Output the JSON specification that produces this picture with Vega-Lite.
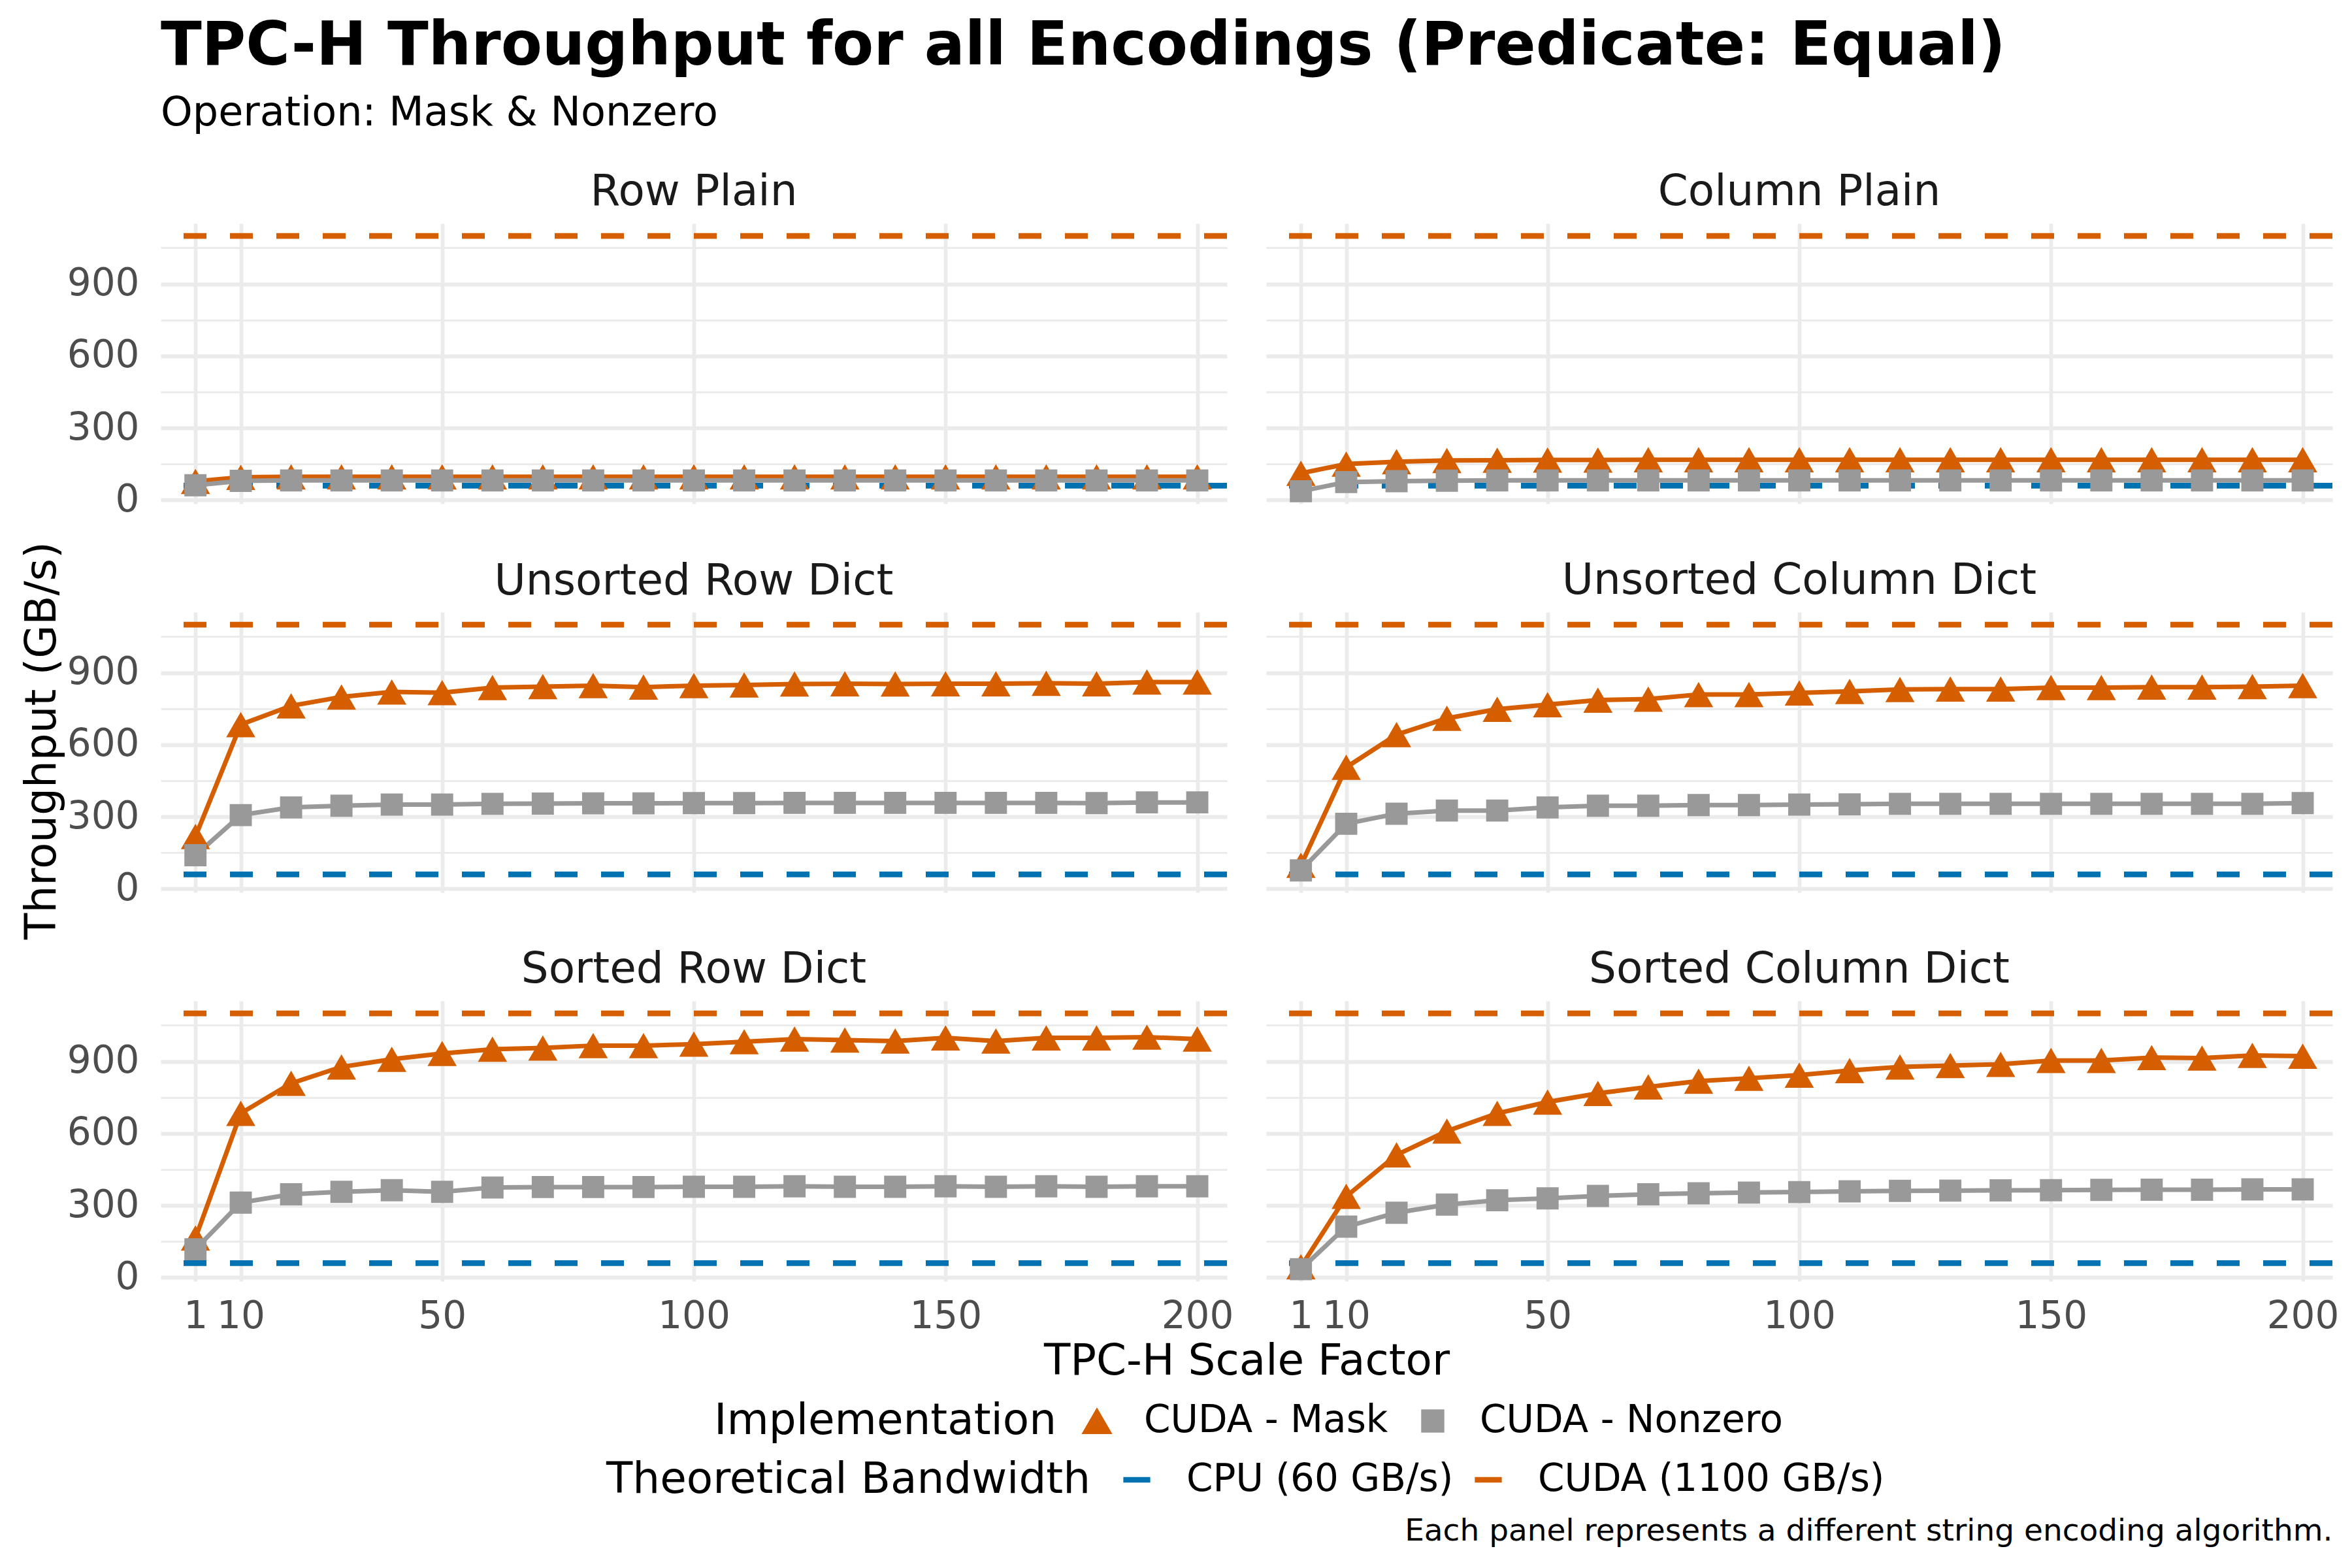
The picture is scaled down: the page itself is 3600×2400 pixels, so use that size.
{
  "$schema": "https://vega.github.io/schema/vega-lite/v6.json",
  "background": "white",
  "padding": {"left": 30, "top": 25, "right": 30, "bottom": 25},
  "title": {
    "text": "TPC-H Throughput for all Encodings (Predicate: Equal)",
    "subtitle": "Operation: Mask & Nonzero",
    "anchor": "start",
    "frame": "group",
    "fontSize": 92,
    "fontWeight": "bold",
    "color": "#000000",
    "subtitleFontSize": 62,
    "subtitleColor": "#000000",
    "subtitlePadding": 25,
    "offset": 56
  },
  "datasets": {
    "bw": [
      {"throughput": 60, "label": "CPU (60 GB/s)"},
      {"throughput": 1100, "label": "CUDA (1100 GB/s)"}
    ],
    "tp": [
      {"panel":"Row Plain","impl":"CUDA - Mask","sf":1,"throughput":78},
      {"panel":"Row Plain","impl":"CUDA - Mask","sf":10,"throughput":95},
      {"panel":"Row Plain","impl":"CUDA - Mask","sf":20,"throughput":97},
      {"panel":"Row Plain","impl":"CUDA - Mask","sf":30,"throughput":97},
      {"panel":"Row Plain","impl":"CUDA - Mask","sf":40,"throughput":97},
      {"panel":"Row Plain","impl":"CUDA - Mask","sf":50,"throughput":97},
      {"panel":"Row Plain","impl":"CUDA - Mask","sf":60,"throughput":97},
      {"panel":"Row Plain","impl":"CUDA - Mask","sf":70,"throughput":97},
      {"panel":"Row Plain","impl":"CUDA - Mask","sf":80,"throughput":97},
      {"panel":"Row Plain","impl":"CUDA - Mask","sf":90,"throughput":97},
      {"panel":"Row Plain","impl":"CUDA - Mask","sf":100,"throughput":97},
      {"panel":"Row Plain","impl":"CUDA - Mask","sf":110,"throughput":97},
      {"panel":"Row Plain","impl":"CUDA - Mask","sf":120,"throughput":97},
      {"panel":"Row Plain","impl":"CUDA - Mask","sf":130,"throughput":97},
      {"panel":"Row Plain","impl":"CUDA - Mask","sf":140,"throughput":97},
      {"panel":"Row Plain","impl":"CUDA - Mask","sf":150,"throughput":97},
      {"panel":"Row Plain","impl":"CUDA - Mask","sf":160,"throughput":97},
      {"panel":"Row Plain","impl":"CUDA - Mask","sf":170,"throughput":97},
      {"panel":"Row Plain","impl":"CUDA - Mask","sf":180,"throughput":97},
      {"panel":"Row Plain","impl":"CUDA - Mask","sf":190,"throughput":97},
      {"panel":"Row Plain","impl":"CUDA - Mask","sf":200,"throughput":97},
      {"panel":"Row Plain","impl":"CUDA - Nonzero","sf":1,"throughput":62},
      {"panel":"Row Plain","impl":"CUDA - Nonzero","sf":10,"throughput":80},
      {"panel":"Row Plain","impl":"CUDA - Nonzero","sf":20,"throughput":82},
      {"panel":"Row Plain","impl":"CUDA - Nonzero","sf":30,"throughput":82},
      {"panel":"Row Plain","impl":"CUDA - Nonzero","sf":40,"throughput":82},
      {"panel":"Row Plain","impl":"CUDA - Nonzero","sf":50,"throughput":82},
      {"panel":"Row Plain","impl":"CUDA - Nonzero","sf":60,"throughput":82},
      {"panel":"Row Plain","impl":"CUDA - Nonzero","sf":70,"throughput":82},
      {"panel":"Row Plain","impl":"CUDA - Nonzero","sf":80,"throughput":82},
      {"panel":"Row Plain","impl":"CUDA - Nonzero","sf":90,"throughput":82},
      {"panel":"Row Plain","impl":"CUDA - Nonzero","sf":100,"throughput":82},
      {"panel":"Row Plain","impl":"CUDA - Nonzero","sf":110,"throughput":82},
      {"panel":"Row Plain","impl":"CUDA - Nonzero","sf":120,"throughput":82},
      {"panel":"Row Plain","impl":"CUDA - Nonzero","sf":130,"throughput":82},
      {"panel":"Row Plain","impl":"CUDA - Nonzero","sf":140,"throughput":82},
      {"panel":"Row Plain","impl":"CUDA - Nonzero","sf":150,"throughput":82},
      {"panel":"Row Plain","impl":"CUDA - Nonzero","sf":160,"throughput":82},
      {"panel":"Row Plain","impl":"CUDA - Nonzero","sf":170,"throughput":82},
      {"panel":"Row Plain","impl":"CUDA - Nonzero","sf":180,"throughput":82},
      {"panel":"Row Plain","impl":"CUDA - Nonzero","sf":190,"throughput":82},
      {"panel":"Row Plain","impl":"CUDA - Nonzero","sf":200,"throughput":82},
      {"panel":"Column Plain","impl":"CUDA - Mask","sf":1,"throughput":112},
      {"panel":"Column Plain","impl":"CUDA - Mask","sf":10,"throughput":150},
      {"panel":"Column Plain","impl":"CUDA - Mask","sf":20,"throughput":160},
      {"panel":"Column Plain","impl":"CUDA - Mask","sf":30,"throughput":165},
      {"panel":"Column Plain","impl":"CUDA - Mask","sf":40,"throughput":166},
      {"panel":"Column Plain","impl":"CUDA - Mask","sf":50,"throughput":167},
      {"panel":"Column Plain","impl":"CUDA - Mask","sf":60,"throughput":167},
      {"panel":"Column Plain","impl":"CUDA - Mask","sf":70,"throughput":168},
      {"panel":"Column Plain","impl":"CUDA - Mask","sf":80,"throughput":168},
      {"panel":"Column Plain","impl":"CUDA - Mask","sf":90,"throughput":168},
      {"panel":"Column Plain","impl":"CUDA - Mask","sf":100,"throughput":168},
      {"panel":"Column Plain","impl":"CUDA - Mask","sf":110,"throughput":168},
      {"panel":"Column Plain","impl":"CUDA - Mask","sf":120,"throughput":168},
      {"panel":"Column Plain","impl":"CUDA - Mask","sf":130,"throughput":168},
      {"panel":"Column Plain","impl":"CUDA - Mask","sf":140,"throughput":168},
      {"panel":"Column Plain","impl":"CUDA - Mask","sf":150,"throughput":168},
      {"panel":"Column Plain","impl":"CUDA - Mask","sf":160,"throughput":168},
      {"panel":"Column Plain","impl":"CUDA - Mask","sf":170,"throughput":168},
      {"panel":"Column Plain","impl":"CUDA - Mask","sf":180,"throughput":168},
      {"panel":"Column Plain","impl":"CUDA - Mask","sf":190,"throughput":168},
      {"panel":"Column Plain","impl":"CUDA - Mask","sf":200,"throughput":168},
      {"panel":"Column Plain","impl":"CUDA - Nonzero","sf":1,"throughput":37},
      {"panel":"Column Plain","impl":"CUDA - Nonzero","sf":10,"throughput":75},
      {"panel":"Column Plain","impl":"CUDA - Nonzero","sf":20,"throughput":79},
      {"panel":"Column Plain","impl":"CUDA - Nonzero","sf":30,"throughput":81},
      {"panel":"Column Plain","impl":"CUDA - Nonzero","sf":40,"throughput":82},
      {"panel":"Column Plain","impl":"CUDA - Nonzero","sf":50,"throughput":82},
      {"panel":"Column Plain","impl":"CUDA - Nonzero","sf":60,"throughput":82},
      {"panel":"Column Plain","impl":"CUDA - Nonzero","sf":70,"throughput":82},
      {"panel":"Column Plain","impl":"CUDA - Nonzero","sf":80,"throughput":82},
      {"panel":"Column Plain","impl":"CUDA - Nonzero","sf":90,"throughput":82},
      {"panel":"Column Plain","impl":"CUDA - Nonzero","sf":100,"throughput":82},
      {"panel":"Column Plain","impl":"CUDA - Nonzero","sf":110,"throughput":82},
      {"panel":"Column Plain","impl":"CUDA - Nonzero","sf":120,"throughput":82},
      {"panel":"Column Plain","impl":"CUDA - Nonzero","sf":130,"throughput":82},
      {"panel":"Column Plain","impl":"CUDA - Nonzero","sf":140,"throughput":82},
      {"panel":"Column Plain","impl":"CUDA - Nonzero","sf":150,"throughput":82},
      {"panel":"Column Plain","impl":"CUDA - Nonzero","sf":160,"throughput":82},
      {"panel":"Column Plain","impl":"CUDA - Nonzero","sf":170,"throughput":82},
      {"panel":"Column Plain","impl":"CUDA - Nonzero","sf":180,"throughput":82},
      {"panel":"Column Plain","impl":"CUDA - Nonzero","sf":190,"throughput":82},
      {"panel":"Column Plain","impl":"CUDA - Nonzero","sf":200,"throughput":82},
      {"panel":"Unsorted Row Dict","impl":"CUDA - Mask","sf":1,"throughput":218},
      {"panel":"Unsorted Row Dict","impl":"CUDA - Mask","sf":10,"throughput":684},
      {"panel":"Unsorted Row Dict","impl":"CUDA - Mask","sf":20,"throughput":762},
      {"panel":"Unsorted Row Dict","impl":"CUDA - Mask","sf":30,"throughput":799},
      {"panel":"Unsorted Row Dict","impl":"CUDA - Mask","sf":40,"throughput":820},
      {"panel":"Unsorted Row Dict","impl":"CUDA - Mask","sf":50,"throughput":817},
      {"panel":"Unsorted Row Dict","impl":"CUDA - Mask","sf":60,"throughput":838},
      {"panel":"Unsorted Row Dict","impl":"CUDA - Mask","sf":70,"throughput":842},
      {"panel":"Unsorted Row Dict","impl":"CUDA - Mask","sf":80,"throughput":846},
      {"panel":"Unsorted Row Dict","impl":"CUDA - Mask","sf":90,"throughput":840},
      {"panel":"Unsorted Row Dict","impl":"CUDA - Mask","sf":100,"throughput":846},
      {"panel":"Unsorted Row Dict","impl":"CUDA - Mask","sf":110,"throughput":849},
      {"panel":"Unsorted Row Dict","impl":"CUDA - Mask","sf":120,"throughput":853},
      {"panel":"Unsorted Row Dict","impl":"CUDA - Mask","sf":130,"throughput":854},
      {"panel":"Unsorted Row Dict","impl":"CUDA - Mask","sf":140,"throughput":853},
      {"panel":"Unsorted Row Dict","impl":"CUDA - Mask","sf":150,"throughput":854},
      {"panel":"Unsorted Row Dict","impl":"CUDA - Mask","sf":160,"throughput":854},
      {"panel":"Unsorted Row Dict","impl":"CUDA - Mask","sf":170,"throughput":856},
      {"panel":"Unsorted Row Dict","impl":"CUDA - Mask","sf":180,"throughput":854},
      {"panel":"Unsorted Row Dict","impl":"CUDA - Mask","sf":190,"throughput":861},
      {"panel":"Unsorted Row Dict","impl":"CUDA - Mask","sf":200,"throughput":861},
      {"panel":"Unsorted Row Dict","impl":"CUDA - Nonzero","sf":1,"throughput":140},
      {"panel":"Unsorted Row Dict","impl":"CUDA - Nonzero","sf":10,"throughput":307},
      {"panel":"Unsorted Row Dict","impl":"CUDA - Nonzero","sf":20,"throughput":339},
      {"panel":"Unsorted Row Dict","impl":"CUDA - Nonzero","sf":30,"throughput":346},
      {"panel":"Unsorted Row Dict","impl":"CUDA - Nonzero","sf":40,"throughput":351},
      {"panel":"Unsorted Row Dict","impl":"CUDA - Nonzero","sf":50,"throughput":351},
      {"panel":"Unsorted Row Dict","impl":"CUDA - Nonzero","sf":60,"throughput":354},
      {"panel":"Unsorted Row Dict","impl":"CUDA - Nonzero","sf":70,"throughput":355},
      {"panel":"Unsorted Row Dict","impl":"CUDA - Nonzero","sf":80,"throughput":356},
      {"panel":"Unsorted Row Dict","impl":"CUDA - Nonzero","sf":90,"throughput":356},
      {"panel":"Unsorted Row Dict","impl":"CUDA - Nonzero","sf":100,"throughput":357},
      {"panel":"Unsorted Row Dict","impl":"CUDA - Nonzero","sf":110,"throughput":357},
      {"panel":"Unsorted Row Dict","impl":"CUDA - Nonzero","sf":120,"throughput":358},
      {"panel":"Unsorted Row Dict","impl":"CUDA - Nonzero","sf":130,"throughput":358},
      {"panel":"Unsorted Row Dict","impl":"CUDA - Nonzero","sf":140,"throughput":358},
      {"panel":"Unsorted Row Dict","impl":"CUDA - Nonzero","sf":150,"throughput":358},
      {"panel":"Unsorted Row Dict","impl":"CUDA - Nonzero","sf":160,"throughput":358},
      {"panel":"Unsorted Row Dict","impl":"CUDA - Nonzero","sf":170,"throughput":358},
      {"panel":"Unsorted Row Dict","impl":"CUDA - Nonzero","sf":180,"throughput":357},
      {"panel":"Unsorted Row Dict","impl":"CUDA - Nonzero","sf":190,"throughput":360},
      {"panel":"Unsorted Row Dict","impl":"CUDA - Nonzero","sf":200,"throughput":360},
      {"panel":"Unsorted Column Dict","impl":"CUDA - Mask","sf":1,"throughput":98},
      {"panel":"Unsorted Column Dict","impl":"CUDA - Mask","sf":10,"throughput":506},
      {"panel":"Unsorted Column Dict","impl":"CUDA - Mask","sf":20,"throughput":642},
      {"panel":"Unsorted Column Dict","impl":"CUDA - Mask","sf":30,"throughput":710},
      {"panel":"Unsorted Column Dict","impl":"CUDA - Mask","sf":40,"throughput":748},
      {"panel":"Unsorted Column Dict","impl":"CUDA - Mask","sf":50,"throughput":767},
      {"panel":"Unsorted Column Dict","impl":"CUDA - Mask","sf":60,"throughput":786},
      {"panel":"Unsorted Column Dict","impl":"CUDA - Mask","sf":70,"throughput":790},
      {"panel":"Unsorted Column Dict","impl":"CUDA - Mask","sf":80,"throughput":809},
      {"panel":"Unsorted Column Dict","impl":"CUDA - Mask","sf":90,"throughput":809},
      {"panel":"Unsorted Column Dict","impl":"CUDA - Mask","sf":100,"throughput":816},
      {"panel":"Unsorted Column Dict","impl":"CUDA - Mask","sf":110,"throughput":822},
      {"panel":"Unsorted Column Dict","impl":"CUDA - Mask","sf":120,"throughput":830},
      {"panel":"Unsorted Column Dict","impl":"CUDA - Mask","sf":130,"throughput":832},
      {"panel":"Unsorted Column Dict","impl":"CUDA - Mask","sf":140,"throughput":832},
      {"panel":"Unsorted Column Dict","impl":"CUDA - Mask","sf":150,"throughput":838},
      {"panel":"Unsorted Column Dict","impl":"CUDA - Mask","sf":160,"throughput":838},
      {"panel":"Unsorted Column Dict","impl":"CUDA - Mask","sf":170,"throughput":840},
      {"panel":"Unsorted Column Dict","impl":"CUDA - Mask","sf":180,"throughput":840},
      {"panel":"Unsorted Column Dict","impl":"CUDA - Mask","sf":190,"throughput":842},
      {"panel":"Unsorted Column Dict","impl":"CUDA - Mask","sf":200,"throughput":846},
      {"panel":"Unsorted Column Dict","impl":"CUDA - Nonzero","sf":1,"throughput":77},
      {"panel":"Unsorted Column Dict","impl":"CUDA - Nonzero","sf":10,"throughput":271},
      {"panel":"Unsorted Column Dict","impl":"CUDA - Nonzero","sf":20,"throughput":313},
      {"panel":"Unsorted Column Dict","impl":"CUDA - Nonzero","sf":30,"throughput":326},
      {"panel":"Unsorted Column Dict","impl":"CUDA - Nonzero","sf":40,"throughput":326},
      {"panel":"Unsorted Column Dict","impl":"CUDA - Nonzero","sf":50,"throughput":339},
      {"panel":"Unsorted Column Dict","impl":"CUDA - Nonzero","sf":60,"throughput":346},
      {"panel":"Unsorted Column Dict","impl":"CUDA - Nonzero","sf":70,"throughput":346},
      {"panel":"Unsorted Column Dict","impl":"CUDA - Nonzero","sf":80,"throughput":349},
      {"panel":"Unsorted Column Dict","impl":"CUDA - Nonzero","sf":90,"throughput":349},
      {"panel":"Unsorted Column Dict","impl":"CUDA - Nonzero","sf":100,"throughput":351},
      {"panel":"Unsorted Column Dict","impl":"CUDA - Nonzero","sf":110,"throughput":352},
      {"panel":"Unsorted Column Dict","impl":"CUDA - Nonzero","sf":120,"throughput":354},
      {"panel":"Unsorted Column Dict","impl":"CUDA - Nonzero","sf":130,"throughput":354},
      {"panel":"Unsorted Column Dict","impl":"CUDA - Nonzero","sf":140,"throughput":354},
      {"panel":"Unsorted Column Dict","impl":"CUDA - Nonzero","sf":150,"throughput":354},
      {"panel":"Unsorted Column Dict","impl":"CUDA - Nonzero","sf":160,"throughput":354},
      {"panel":"Unsorted Column Dict","impl":"CUDA - Nonzero","sf":170,"throughput":354},
      {"panel":"Unsorted Column Dict","impl":"CUDA - Nonzero","sf":180,"throughput":354},
      {"panel":"Unsorted Column Dict","impl":"CUDA - Nonzero","sf":190,"throughput":354},
      {"panel":"Unsorted Column Dict","impl":"CUDA - Nonzero","sf":200,"throughput":357},
      {"panel":"Sorted Row Dict","impl":"CUDA - Mask","sf":1,"throughput":165},
      {"panel":"Sorted Row Dict","impl":"CUDA - Mask","sf":10,"throughput":684},
      {"panel":"Sorted Row Dict","impl":"CUDA - Mask","sf":20,"throughput":809},
      {"panel":"Sorted Row Dict","impl":"CUDA - Mask","sf":30,"throughput":877},
      {"panel":"Sorted Row Dict","impl":"CUDA - Mask","sf":40,"throughput":909},
      {"panel":"Sorted Row Dict","impl":"CUDA - Mask","sf":50,"throughput":933},
      {"panel":"Sorted Row Dict","impl":"CUDA - Mask","sf":60,"throughput":951},
      {"panel":"Sorted Row Dict","impl":"CUDA - Mask","sf":70,"throughput":956},
      {"panel":"Sorted Row Dict","impl":"CUDA - Mask","sf":80,"throughput":966},
      {"panel":"Sorted Row Dict","impl":"CUDA - Mask","sf":90,"throughput":966},
      {"panel":"Sorted Row Dict","impl":"CUDA - Mask","sf":100,"throughput":972},
      {"panel":"Sorted Row Dict","impl":"CUDA - Mask","sf":110,"throughput":982},
      {"panel":"Sorted Row Dict","impl":"CUDA - Mask","sf":120,"throughput":993},
      {"panel":"Sorted Row Dict","impl":"CUDA - Mask","sf":130,"throughput":989},
      {"panel":"Sorted Row Dict","impl":"CUDA - Mask","sf":140,"throughput":985},
      {"panel":"Sorted Row Dict","impl":"CUDA - Mask","sf":150,"throughput":998},
      {"panel":"Sorted Row Dict","impl":"CUDA - Mask","sf":160,"throughput":985},
      {"panel":"Sorted Row Dict","impl":"CUDA - Mask","sf":170,"throughput":998},
      {"panel":"Sorted Row Dict","impl":"CUDA - Mask","sf":180,"throughput":998},
      {"panel":"Sorted Row Dict","impl":"CUDA - Mask","sf":190,"throughput":1001},
      {"panel":"Sorted Row Dict","impl":"CUDA - Mask","sf":200,"throughput":993},
      {"panel":"Sorted Row Dict","impl":"CUDA - Nonzero","sf":1,"throughput":118},
      {"panel":"Sorted Row Dict","impl":"CUDA - Nonzero","sf":10,"throughput":312},
      {"panel":"Sorted Row Dict","impl":"CUDA - Nonzero","sf":20,"throughput":347},
      {"panel":"Sorted Row Dict","impl":"CUDA - Nonzero","sf":30,"throughput":357},
      {"panel":"Sorted Row Dict","impl":"CUDA - Nonzero","sf":40,"throughput":364},
      {"panel":"Sorted Row Dict","impl":"CUDA - Nonzero","sf":50,"throughput":357},
      {"panel":"Sorted Row Dict","impl":"CUDA - Nonzero","sf":60,"throughput":375},
      {"panel":"Sorted Row Dict","impl":"CUDA - Nonzero","sf":70,"throughput":377},
      {"panel":"Sorted Row Dict","impl":"CUDA - Nonzero","sf":80,"throughput":377},
      {"panel":"Sorted Row Dict","impl":"CUDA - Nonzero","sf":90,"throughput":377},
      {"panel":"Sorted Row Dict","impl":"CUDA - Nonzero","sf":100,"throughput":378},
      {"panel":"Sorted Row Dict","impl":"CUDA - Nonzero","sf":110,"throughput":378},
      {"panel":"Sorted Row Dict","impl":"CUDA - Nonzero","sf":120,"throughput":380},
      {"panel":"Sorted Row Dict","impl":"CUDA - Nonzero","sf":130,"throughput":378},
      {"panel":"Sorted Row Dict","impl":"CUDA - Nonzero","sf":140,"throughput":378},
      {"panel":"Sorted Row Dict","impl":"CUDA - Nonzero","sf":150,"throughput":380},
      {"panel":"Sorted Row Dict","impl":"CUDA - Nonzero","sf":160,"throughput":378},
      {"panel":"Sorted Row Dict","impl":"CUDA - Nonzero","sf":170,"throughput":380},
      {"panel":"Sorted Row Dict","impl":"CUDA - Nonzero","sf":180,"throughput":378},
      {"panel":"Sorted Row Dict","impl":"CUDA - Nonzero","sf":190,"throughput":380},
      {"panel":"Sorted Row Dict","impl":"CUDA - Nonzero","sf":200,"throughput":380},
      {"panel":"Sorted Column Dict","impl":"CUDA - Mask","sf":1,"throughput":45},
      {"panel":"Sorted Column Dict","impl":"CUDA - Mask","sf":10,"throughput":338},
      {"panel":"Sorted Column Dict","impl":"CUDA - Mask","sf":20,"throughput":511},
      {"panel":"Sorted Column Dict","impl":"CUDA - Mask","sf":30,"throughput":610},
      {"panel":"Sorted Column Dict","impl":"CUDA - Mask","sf":40,"throughput":684},
      {"panel":"Sorted Column Dict","impl":"CUDA - Mask","sf":50,"throughput":731},
      {"panel":"Sorted Column Dict","impl":"CUDA - Mask","sf":60,"throughput":767},
      {"panel":"Sorted Column Dict","impl":"CUDA - Mask","sf":70,"throughput":794},
      {"panel":"Sorted Column Dict","impl":"CUDA - Mask","sf":80,"throughput":818},
      {"panel":"Sorted Column Dict","impl":"CUDA - Mask","sf":90,"throughput":830},
      {"panel":"Sorted Column Dict","impl":"CUDA - Mask","sf":100,"throughput":843},
      {"panel":"Sorted Column Dict","impl":"CUDA - Mask","sf":110,"throughput":862},
      {"panel":"Sorted Column Dict","impl":"CUDA - Mask","sf":120,"throughput":877},
      {"panel":"Sorted Column Dict","impl":"CUDA - Mask","sf":130,"throughput":883},
      {"panel":"Sorted Column Dict","impl":"CUDA - Mask","sf":140,"throughput":888},
      {"panel":"Sorted Column Dict","impl":"CUDA - Mask","sf":150,"throughput":904},
      {"panel":"Sorted Column Dict","impl":"CUDA - Mask","sf":160,"throughput":904},
      {"panel":"Sorted Column Dict","impl":"CUDA - Mask","sf":170,"throughput":916},
      {"panel":"Sorted Column Dict","impl":"CUDA - Mask","sf":180,"throughput":914},
      {"panel":"Sorted Column Dict","impl":"CUDA - Mask","sf":190,"throughput":925},
      {"panel":"Sorted Column Dict","impl":"CUDA - Mask","sf":200,"throughput":922},
      {"panel":"Sorted Column Dict","impl":"CUDA - Nonzero","sf":1,"throughput":35},
      {"panel":"Sorted Column Dict","impl":"CUDA - Nonzero","sf":10,"throughput":212},
      {"panel":"Sorted Column Dict","impl":"CUDA - Nonzero","sf":20,"throughput":270},
      {"panel":"Sorted Column Dict","impl":"CUDA - Nonzero","sf":30,"throughput":304},
      {"panel":"Sorted Column Dict","impl":"CUDA - Nonzero","sf":40,"throughput":322},
      {"panel":"Sorted Column Dict","impl":"CUDA - Nonzero","sf":50,"throughput":330},
      {"panel":"Sorted Column Dict","impl":"CUDA - Nonzero","sf":60,"throughput":340},
      {"panel":"Sorted Column Dict","impl":"CUDA - Nonzero","sf":70,"throughput":347},
      {"panel":"Sorted Column Dict","impl":"CUDA - Nonzero","sf":80,"throughput":351},
      {"panel":"Sorted Column Dict","impl":"CUDA - Nonzero","sf":90,"throughput":354},
      {"panel":"Sorted Column Dict","impl":"CUDA - Nonzero","sf":100,"throughput":356},
      {"panel":"Sorted Column Dict","impl":"CUDA - Nonzero","sf":110,"throughput":359},
      {"panel":"Sorted Column Dict","impl":"CUDA - Nonzero","sf":120,"throughput":361},
      {"panel":"Sorted Column Dict","impl":"CUDA - Nonzero","sf":130,"throughput":362},
      {"panel":"Sorted Column Dict","impl":"CUDA - Nonzero","sf":140,"throughput":363},
      {"panel":"Sorted Column Dict","impl":"CUDA - Nonzero","sf":150,"throughput":364},
      {"panel":"Sorted Column Dict","impl":"CUDA - Nonzero","sf":160,"throughput":365},
      {"panel":"Sorted Column Dict","impl":"CUDA - Nonzero","sf":170,"throughput":366},
      {"panel":"Sorted Column Dict","impl":"CUDA - Nonzero","sf":180,"throughput":366},
      {"panel":"Sorted Column Dict","impl":"CUDA - Nonzero","sf":190,"throughput":367},
      {"panel":"Sorted Column Dict","impl":"CUDA - Nonzero","sf":200,"throughput":367}
    ]
  },
  "bounds": "flush",
  "columns": 2,
  "spacing": {"row": 166, "column": 60},
  "concat": [
    {
      "title": "Row Plain",
      "width": 1632, "height": 429,
      "encoding": {"y": {"field": "throughput", "type": "quantitative", "scale": {"domain": [-15, 1152], "nice": false, "zero": false}, "axis": {"values": [0, 150, 300, 450, 600, 750, 900, 1050], "labelExpr": "datum.value % 300 === 0 ? datum.label : ''", "gridWidth": {"condition": {"test": "datum.value % 300 === 0", "value": 6}, "value": 3.2}, "title": null}}},
      "layer": [
        {"data": {"name": "bw"}, "mark": {"type": "rule", "strokeDash": [35, 36], "strokeWidth": 8.7},
         "encoding": {"stroke": {"field": "label", "type": "nominal", "scale": {"domain": ["CPU (60 GB/s)", "CUDA (1100 GB/s)"], "range": ["#0072B2", "#D55E00"]}, "legend": {"title": "Theoretical Bandwidth", "orient": "none", "legendX": 682, "legendY": 1894, "direction": "horizontal", "titleOrient": "left", "symbolType": "stroke", "symbolStrokeWidth": 8.7, "symbolSize": 1700, "labelOffset": 47, "columnPadding": 14, "titlePadding": 41}}}},
        {"data": {"name": "tp"}, "transform": [{"filter": {"field": "panel", "equal": "Row Plain"}}],
         "encoding": {
           "x": {"field": "sf", "type": "quantitative", "scale": {"domain": [-5.9, 205.9], "nice": false, "zero": false}, "axis": {"values": [1, 10, 50, 100, 150, 200], "labels": false, "title": null}},
           "color": {"field": "impl", "type": "nominal", "scale": {"domain": ["CUDA - Mask", "CUDA - Nonzero"], "range": ["#D55E00", "#999999"]}, "legend": {"title": "Implementation", "orient": "none", "legendX": 847, "legendY": 1804, "direction": "horizontal", "titleOrient": "left", "symbolSize": 900, "labelOffset": 43, "columnPadding": 39, "titlePadding": 32}}
         },
         "layer": [
           {"mark": {"type": "line", "strokeWidth": 7}},
           {"mark": {"type": "point", "filled": true, "opacity": 1},
            "encoding": {"shape": {"field": "impl", "type": "nominal", "scale": {"domain": ["CUDA - Mask", "CUDA - Nonzero"], "range": ["triangle-up", "square"]}, "legend": {"title": "Implementation", "orient": "none", "legendX": 847, "legendY": 1804, "direction": "horizontal", "titleOrient": "left", "symbolSize": 900, "labelOffset": 43, "columnPadding": 39, "titlePadding": 32}},
                         "size": {"field": "impl", "type": "ordinal", "scale": {"domain": ["CUDA - Mask", "CUDA - Nonzero"], "range": [2000, 1150]}, "legend": null}}}
         ]}
      ]
    },
    {
      "title": "Column Plain",
      "width": 1632, "height": 429,
      "encoding": {"y": {"field": "throughput", "type": "quantitative", "scale": {"domain": [-15, 1152], "nice": false, "zero": false}, "axis": {"values": [0, 150, 300, 450, 600, 750, 900, 1050], "labels": false, "gridWidth": {"condition": {"test": "datum.value % 300 === 0", "value": 6}, "value": 3.2}, "title": null}}},
      "layer": [
        {"data": {"name": "bw"}, "mark": {"type": "rule", "strokeDash": [35, 36], "strokeWidth": 8.7},
         "encoding": {"stroke": {"field": "label", "type": "nominal", "scale": {"domain": ["CPU (60 GB/s)", "CUDA (1100 GB/s)"], "range": ["#0072B2", "#D55E00"]}, "legend": {"title": "Theoretical Bandwidth", "orient": "none", "legendX": 682, "legendY": 1894, "direction": "horizontal", "titleOrient": "left", "symbolType": "stroke", "symbolStrokeWidth": 8.7, "symbolSize": 1700, "labelOffset": 47, "columnPadding": 14, "titlePadding": 41}}}},
        {"data": {"name": "tp"}, "transform": [{"filter": {"field": "panel", "equal": "Column Plain"}}],
         "encoding": {
           "x": {"field": "sf", "type": "quantitative", "scale": {"domain": [-5.9, 205.9], "nice": false, "zero": false}, "axis": {"values": [1, 10, 50, 100, 150, 200], "labels": false, "title": null}},
           "color": {"field": "impl", "type": "nominal", "scale": {"domain": ["CUDA - Mask", "CUDA - Nonzero"], "range": ["#D55E00", "#999999"]}, "legend": {"title": "Implementation", "orient": "none", "legendX": 847, "legendY": 1804, "direction": "horizontal", "titleOrient": "left", "symbolSize": 900, "labelOffset": 43, "columnPadding": 39, "titlePadding": 32}}
         },
         "layer": [
           {"mark": {"type": "line", "strokeWidth": 7}},
           {"mark": {"type": "point", "filled": true, "opacity": 1},
            "encoding": {"shape": {"field": "impl", "type": "nominal", "scale": {"domain": ["CUDA - Mask", "CUDA - Nonzero"], "range": ["triangle-up", "square"]}, "legend": {"title": "Implementation", "orient": "none", "legendX": 847, "legendY": 1804, "direction": "horizontal", "titleOrient": "left", "symbolSize": 900, "labelOffset": 43, "columnPadding": 39, "titlePadding": 32}},
                         "size": {"field": "impl", "type": "ordinal", "scale": {"domain": ["CUDA - Mask", "CUDA - Nonzero"], "range": [2000, 1150]}, "legend": null}}}
         ]}
      ]
    },
    {
      "title": {"text": "Unsorted Row Dict", "dy": 109},
      "width": 1632, "height": 429,
      "encoding": {"y": {"field": "throughput", "type": "quantitative", "scale": {"domain": [-15, 1152], "nice": false, "zero": false}, "axis": {"values": [0, 150, 300, 450, 600, 750, 900, 1050], "labelExpr": "datum.value % 300 === 0 ? datum.label : ''", "gridWidth": {"condition": {"test": "datum.value % 300 === 0", "value": 6}, "value": 3.2}, "title": "Throughput (GB/s)", "titleX": -182, "titleY": 196, "titleAngle": 270, "titleAlign": "center", "titleBaseline": "middle"}}},
      "layer": [
        {"data": {"name": "bw"}, "mark": {"type": "rule", "strokeDash": [35, 36], "strokeWidth": 8.7},
         "encoding": {"stroke": {"field": "label", "type": "nominal", "scale": {"domain": ["CPU (60 GB/s)", "CUDA (1100 GB/s)"], "range": ["#0072B2", "#D55E00"]}, "legend": {"title": "Theoretical Bandwidth", "orient": "none", "legendX": 682, "legendY": 1894, "direction": "horizontal", "titleOrient": "left", "symbolType": "stroke", "symbolStrokeWidth": 8.7, "symbolSize": 1700, "labelOffset": 47, "columnPadding": 14, "titlePadding": 41}}}},
        {"data": {"name": "tp"}, "transform": [{"filter": {"field": "panel", "equal": "Unsorted Row Dict"}}],
         "encoding": {
           "x": {"field": "sf", "type": "quantitative", "scale": {"domain": [-5.9, 205.9], "nice": false, "zero": false}, "axis": {"values": [1, 10, 50, 100, 150, 200], "labels": false, "title": null}},
           "color": {"field": "impl", "type": "nominal", "scale": {"domain": ["CUDA - Mask", "CUDA - Nonzero"], "range": ["#D55E00", "#999999"]}, "legend": {"title": "Implementation", "orient": "none", "legendX": 847, "legendY": 1804, "direction": "horizontal", "titleOrient": "left", "symbolSize": 900, "labelOffset": 43, "columnPadding": 39, "titlePadding": 32}}
         },
         "layer": [
           {"mark": {"type": "line", "strokeWidth": 7}},
           {"mark": {"type": "point", "filled": true, "opacity": 1},
            "encoding": {"shape": {"field": "impl", "type": "nominal", "scale": {"domain": ["CUDA - Mask", "CUDA - Nonzero"], "range": ["triangle-up", "square"]}, "legend": {"title": "Implementation", "orient": "none", "legendX": 847, "legendY": 1804, "direction": "horizontal", "titleOrient": "left", "symbolSize": 900, "labelOffset": 43, "columnPadding": 39, "titlePadding": 32}},
                         "size": {"field": "impl", "type": "ordinal", "scale": {"domain": ["CUDA - Mask", "CUDA - Nonzero"], "range": [2000, 1150]}, "legend": null}}}
         ]}
      ]
    },
    {
      "title": "Unsorted Column Dict",
      "width": 1632, "height": 429,
      "encoding": {"y": {"field": "throughput", "type": "quantitative", "scale": {"domain": [-15, 1152], "nice": false, "zero": false}, "axis": {"values": [0, 150, 300, 450, 600, 750, 900, 1050], "labels": false, "gridWidth": {"condition": {"test": "datum.value % 300 === 0", "value": 6}, "value": 3.2}, "title": null}}},
      "layer": [
        {"data": {"name": "bw"}, "mark": {"type": "rule", "strokeDash": [35, 36], "strokeWidth": 8.7},
         "encoding": {"stroke": {"field": "label", "type": "nominal", "scale": {"domain": ["CPU (60 GB/s)", "CUDA (1100 GB/s)"], "range": ["#0072B2", "#D55E00"]}, "legend": {"title": "Theoretical Bandwidth", "orient": "none", "legendX": 682, "legendY": 1894, "direction": "horizontal", "titleOrient": "left", "symbolType": "stroke", "symbolStrokeWidth": 8.7, "symbolSize": 1700, "labelOffset": 47, "columnPadding": 14, "titlePadding": 41}}}},
        {"data": {"name": "tp"}, "transform": [{"filter": {"field": "panel", "equal": "Unsorted Column Dict"}}],
         "encoding": {
           "x": {"field": "sf", "type": "quantitative", "scale": {"domain": [-5.9, 205.9], "nice": false, "zero": false}, "axis": {"values": [1, 10, 50, 100, 150, 200], "labels": false, "title": null}},
           "color": {"field": "impl", "type": "nominal", "scale": {"domain": ["CUDA - Mask", "CUDA - Nonzero"], "range": ["#D55E00", "#999999"]}, "legend": {"title": "Implementation", "orient": "none", "legendX": 847, "legendY": 1804, "direction": "horizontal", "titleOrient": "left", "symbolSize": 900, "labelOffset": 43, "columnPadding": 39, "titlePadding": 32}}
         },
         "layer": [
           {"mark": {"type": "line", "strokeWidth": 7}},
           {"mark": {"type": "point", "filled": true, "opacity": 1},
            "encoding": {"shape": {"field": "impl", "type": "nominal", "scale": {"domain": ["CUDA - Mask", "CUDA - Nonzero"], "range": ["triangle-up", "square"]}, "legend": {"title": "Implementation", "orient": "none", "legendX": 847, "legendY": 1804, "direction": "horizontal", "titleOrient": "left", "symbolSize": 900, "labelOffset": 43, "columnPadding": 39, "titlePadding": 32}},
                         "size": {"field": "impl", "type": "ordinal", "scale": {"domain": ["CUDA - Mask", "CUDA - Nonzero"], "range": [2000, 1150]}, "legend": null}}}
         ]}
      ]
    },
    {
      "title": "Sorted Row Dict",
      "width": 1632, "height": 429,
      "encoding": {"y": {"field": "throughput", "type": "quantitative", "scale": {"domain": [-15, 1152], "nice": false, "zero": false}, "axis": {"values": [0, 150, 300, 450, 600, 750, 900, 1050], "labelExpr": "datum.value % 300 === 0 ? datum.label : ''", "gridWidth": {"condition": {"test": "datum.value % 300 === 0", "value": 6}, "value": 3.2}, "title": null}}},
      "layer": [
        {"data": {"name": "bw"}, "mark": {"type": "rule", "strokeDash": [35, 36], "strokeWidth": 8.7},
         "encoding": {"stroke": {"field": "label", "type": "nominal", "scale": {"domain": ["CPU (60 GB/s)", "CUDA (1100 GB/s)"], "range": ["#0072B2", "#D55E00"]}, "legend": {"title": "Theoretical Bandwidth", "orient": "none", "legendX": 682, "legendY": 1894, "direction": "horizontal", "titleOrient": "left", "symbolType": "stroke", "symbolStrokeWidth": 8.7, "symbolSize": 1700, "labelOffset": 47, "columnPadding": 14, "titlePadding": 41}}}},
        {"data": {"name": "tp"}, "transform": [{"filter": {"field": "panel", "equal": "Sorted Row Dict"}}],
         "encoding": {
           "x": {"field": "sf", "type": "quantitative", "scale": {"domain": [-5.9, 205.9], "nice": false, "zero": false}, "axis": {"values": [1, 10, 50, 100, 150, 200], "title": "TPC-H Scale Factor", "titleX": 1662, "titleY": 122, "titleAlign": "center", "titleBaseline": "middle"}},
           "color": {"field": "impl", "type": "nominal", "scale": {"domain": ["CUDA - Mask", "CUDA - Nonzero"], "range": ["#D55E00", "#999999"]}, "legend": {"title": "Implementation", "orient": "none", "legendX": 847, "legendY": 1804, "direction": "horizontal", "titleOrient": "left", "symbolSize": 900, "labelOffset": 43, "columnPadding": 39, "titlePadding": 32}}
         },
         "layer": [
           {"mark": {"type": "line", "strokeWidth": 7}},
           {"mark": {"type": "point", "filled": true, "opacity": 1},
            "encoding": {"shape": {"field": "impl", "type": "nominal", "scale": {"domain": ["CUDA - Mask", "CUDA - Nonzero"], "range": ["triangle-up", "square"]}, "legend": {"title": "Implementation", "orient": "none", "legendX": 847, "legendY": 1804, "direction": "horizontal", "titleOrient": "left", "symbolSize": 900, "labelOffset": 43, "columnPadding": 39, "titlePadding": 32}},
                         "size": {"field": "impl", "type": "ordinal", "scale": {"domain": ["CUDA - Mask", "CUDA - Nonzero"], "range": [2000, 1150]}, "legend": null}}}
         ]}
      ]
    },
    {
      "title": "Sorted Column Dict",
      "width": 1632, "height": 429,
      "encoding": {"y": {"field": "throughput", "type": "quantitative", "scale": {"domain": [-15, 1152], "nice": false, "zero": false}, "axis": {"values": [0, 150, 300, 450, 600, 750, 900, 1050], "labels": false, "gridWidth": {"condition": {"test": "datum.value % 300 === 0", "value": 6}, "value": 3.2}, "title": null}}},
      "layer": [
        {"data": {"name": "bw"}, "mark": {"type": "rule", "strokeDash": [35, 36], "strokeWidth": 8.7},
         "encoding": {"stroke": {"field": "label", "type": "nominal", "scale": {"domain": ["CPU (60 GB/s)", "CUDA (1100 GB/s)"], "range": ["#0072B2", "#D55E00"]}, "legend": {"title": "Theoretical Bandwidth", "orient": "none", "legendX": 682, "legendY": 1894, "direction": "horizontal", "titleOrient": "left", "symbolType": "stroke", "symbolStrokeWidth": 8.7, "symbolSize": 1700, "labelOffset": 47, "columnPadding": 14, "titlePadding": 41}}}},
        {"data": {"name": "tp"}, "transform": [{"filter": {"field": "panel", "equal": "Sorted Column Dict"}}],
         "encoding": {
           "x": {"field": "sf", "type": "quantitative", "scale": {"domain": [-5.9, 205.9], "nice": false, "zero": false}, "axis": {"values": [1, 10, 50, 100, 150, 200], "title": "Each panel represents a different string encoding algorithm.", "titleFontSize": 47, "titleX": 1632, "titleY": 382, "titleAlign": "right", "titleBaseline": "middle"}},
           "color": {"field": "impl", "type": "nominal", "scale": {"domain": ["CUDA - Mask", "CUDA - Nonzero"], "range": ["#D55E00", "#999999"]}, "legend": {"title": "Implementation", "orient": "none", "legendX": 847, "legendY": 1804, "direction": "horizontal", "titleOrient": "left", "symbolSize": 900, "labelOffset": 43, "columnPadding": 39, "titlePadding": 32}}
         },
         "layer": [
           {"mark": {"type": "line", "strokeWidth": 7}},
           {"mark": {"type": "point", "filled": true, "opacity": 1},
            "encoding": {"shape": {"field": "impl", "type": "nominal", "scale": {"domain": ["CUDA - Mask", "CUDA - Nonzero"], "range": ["triangle-up", "square"]}, "legend": {"title": "Implementation", "orient": "none", "legendX": 847, "legendY": 1804, "direction": "horizontal", "titleOrient": "left", "symbolSize": 900, "labelOffset": 43, "columnPadding": 39, "titlePadding": 32}},
                         "size": {"field": "impl", "type": "ordinal", "scale": {"domain": ["CUDA - Mask", "CUDA - Nonzero"], "range": [2000, 1150]}, "legend": null}}}
         ]}
      ]
    }
  ],
  "config": {
    "font": "DejaVu Sans",
    "view": {"stroke": null},
    "axis": {"domain": false, "ticks": false, "tickSize": 0, "gridColor": "#EBEBEB", "gridWidth": 5.7, "labelFontSize": 58, "labelColor": "#4D4D4D", "titleFontSize": 66, "titleFontWeight": "normal", "titleColor": "#000000", "labelOverlap": false, "labelFlush": false, "labelBound": false},
    "axisX": {"labelPadding": 25},
    "axisY": {"labelPadding": 33},
    "title": {"fontSize": 66, "fontWeight": "normal", "color": "#1A1A1A", "offset": 14, "anchor": "middle"},
    "legend": {"titleFontSize": 66, "titleFontWeight": "normal", "titleColor": "#000000", "labelFontSize": 58, "labelColor": "#000000", "labelLimit": 3000, "titleLimit": 3000}
  }
}
